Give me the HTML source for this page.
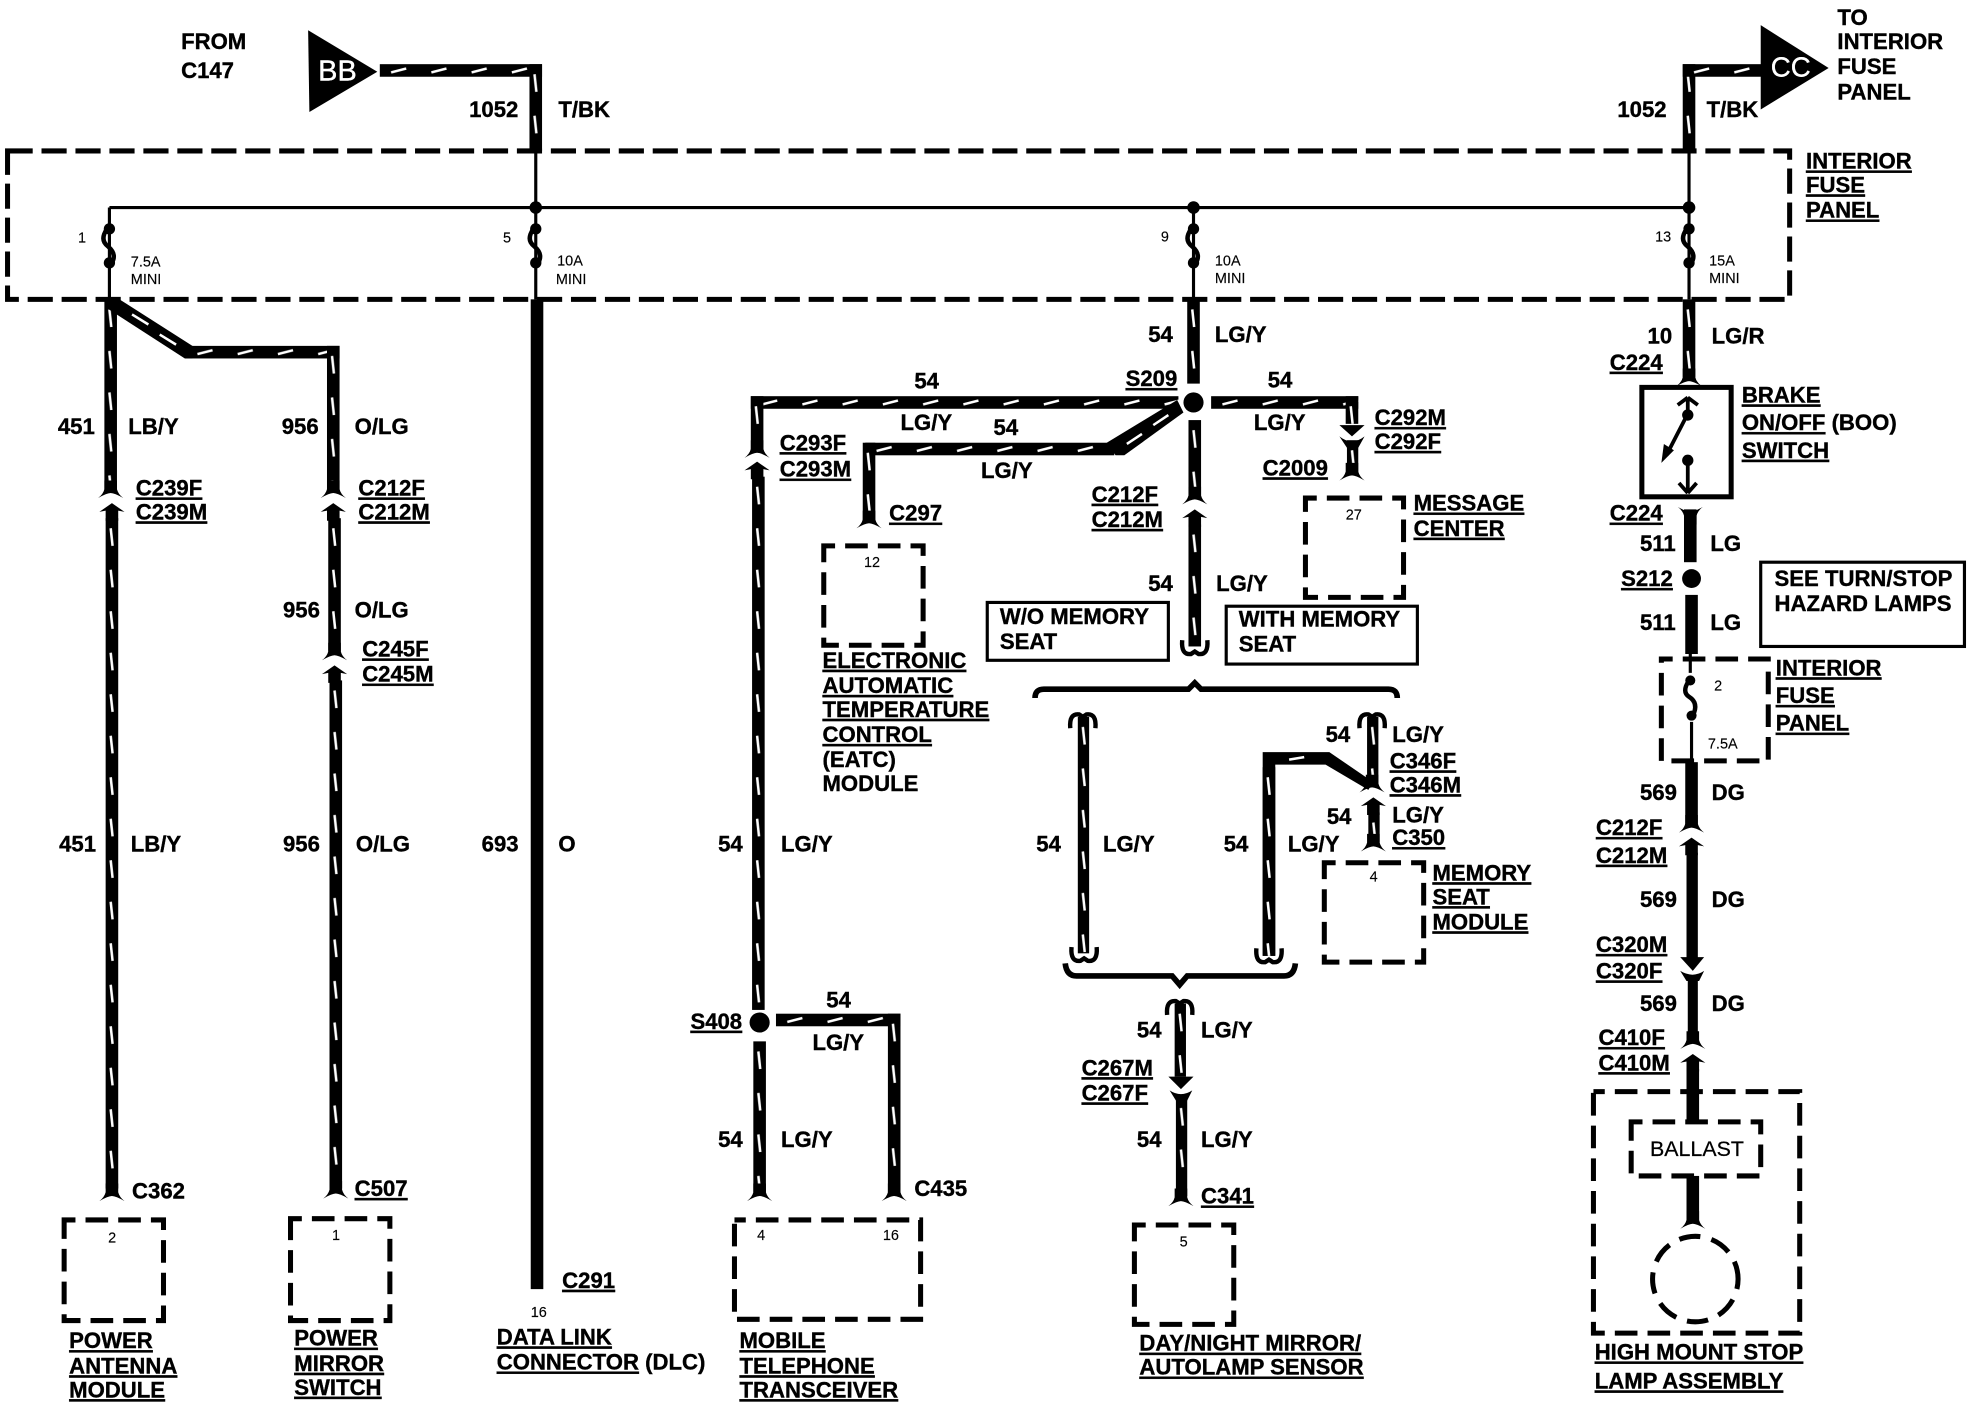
<!DOCTYPE html>
<html><head><meta charset="utf-8"><title>Wiring diagram</title>
<style>
html,body{margin:0;padding:0;background:#fff}
svg{display:block}
text{font-family:"Liberation Sans",sans-serif;font-weight:bold;font-size:17.6px;fill:#000;stroke:#000;stroke-width:.3}
.u{text-decoration:underline}
.s{font-size:11.5px;font-weight:normal;stroke-width:.1}
.n{font-weight:normal;stroke-width:.2;font-size:17px}
.d{fill:none;stroke:#000;stroke-width:4;stroke-dasharray:20 7}
.m{fill:none;stroke:#000;stroke-width:4;stroke-dasharray:18 8;stroke-dashoffset:9}
.t{fill:none;stroke:#000;stroke-width:2.5}
.fz{fill:none;stroke:#000;stroke-width:3.5}
</style></head><body>
<svg xmlns="http://www.w3.org/2000/svg" width="1972" height="1408" viewBox="0 0 1568 1119.5">
<defs>
<pattern id="V" width="10" height="33" patternUnits="userSpaceOnUse"><rect width="10" height="33" fill="#000"/><line x1="4" y1="8" x2="5.5" y2="22" stroke="#fff" stroke-width="2"/></pattern>
<pattern id="H" width="32" height="10" patternUnits="userSpaceOnUse"><rect width="32" height="10" fill="#000"/><line x1="9" y1="6.5" x2="21" y2="3.5" stroke="#fff" stroke-width="2"/></pattern>
<path id="f" d="M-5,-12 L-5,-5 Q-6,-1 -10,2 Q-3,-2 0,-2 Q3,-2 10,2 Q6,-1 5,-5 L5,-12Z"/>
<path id="a" d="M0,0 L10,7 L5,6 L5,14 L-5,14 L-5,6 L-10,7Z"/>
<path id="h" d="M-10,-9 Q-11,3 -3,2 L0,0 L3,2 Q11,3 10,-9" fill="none" stroke="#000" stroke-width="3.5"/>
<g id="fuse"><circle cx="0" cy="17" r="4.5"/><circle cx="0" cy="44" r="4.5"/><path class="fz" d="M-2,17 Q-8,26 -1,31 Q6,37 2,44"/></g>
</defs>

<!-- arrows -->
<polygon points="245,24 300,57 246,89"/>
<polygon points="1400,20 1454,54 1400,87"/>
<text x="253" y="64" style="fill:#fff;stroke:#fff;font-size:23px;font-weight:normal">BB</text>
<text x="1408" y="61" style="fill:#fff;stroke:#fff;font-size:22px;font-weight:normal">CC</text>

<!-- interior fuse panel -->
<rect class="d" x="6" y="120" width="1417" height="118"/>
<path class="t" d="M87,165H1343M426,120V238M949,165V238M1343,120V238M87,165V238"/>
<circle cx="426" cy="165" r="5"/><circle cx="949" cy="165" r="5"/><circle cx="1343" cy="165" r="5"/>
<use href="#fuse" transform="translate(87,165)"/><use href="#fuse" transform="translate(426,165)"/><use href="#fuse" transform="translate(949,165)"/><use href="#fuse" transform="translate(1343,165)"/>

<!-- ticked wires: top -->
<g transform="translate(302,51)"><rect width="129" height="10" fill="url(#H)"/></g>
<g transform="translate(421,51)"><rect width="10" height="69" fill="url(#V)"/></g>
<g transform="translate(1338,51)"><rect width="10" height="69" fill="url(#V)"/></g>
<g transform="translate(1338,51)"><rect width="64" height="10" fill="url(#H)"/></g>

<!-- wire 451 -->
<g transform="translate(83,238)"><rect width="10" height="154" fill="url(#V)"/></g>
<use href="#f" x="88" y="394"/><use href="#a" x="89" y="400"/>
<g transform="translate(84,412)"><rect width="10" height="533" fill="url(#V)"/></g>
<use href="#f" x="89" y="953"/>

<!-- wire 956 -->
<polygon points="85,238 95,238 153,275 153,285 147,285 85,245"/>
<line x1="105" y1="250" x2="118" y2="258" stroke="#fff" stroke-width="2"/><line x1="127" y1="266" x2="140" y2="274" stroke="#fff" stroke-width="2"/>
<g transform="translate(148,275)"><rect width="122" height="10" fill="url(#H)"/></g>
<g transform="translate(260,275)"><rect width="10" height="117" fill="url(#V)"/></g>
<use href="#f" x="265" y="394"/><use href="#a" x="265" y="400"/>
<g transform="translate(261,412)"><rect width="10" height="106" fill="url(#V)"/></g>
<use href="#f" x="266" y="523"/><use href="#a" x="266" y="529"/>
<g transform="translate(262,541)"><rect width="10" height="404" fill="url(#V)"/></g>
<use href="#f" x="267" y="951"/>

<!-- wire 693 -->
<rect x="422" y="238" width="10" height="787"/>

<!-- wire 54 left -->
<g transform="translate(597,315)"><rect width="340" height="10" fill="url(#H)"/></g>
<g transform="translate(597,315)"><rect width="10" height="45" fill="url(#V)"/></g>
<use href="#f" x="602" y="362"/><use href="#a" x="602" y="367"/>
<g transform="translate(598,379)"><rect width="10" height="424" fill="url(#V)"/></g>
<circle cx="604" cy="813" r="8"/>
<g transform="translate(599,828)"><rect width="10" height="120" fill="url(#V)"/></g>
<use href="#f" x="604" y="953"/>
<g transform="translate(617,806)"><rect width="99" height="10" fill="url(#H)"/></g>
<g transform="translate(706,806)"><rect width="10" height="142" fill="url(#V)"/></g>
<use href="#f" x="711" y="953"/>

<!-- S209 branches -->
<polygon points="880,352 887,362 894,362 941,328 936,318"/>
<line x1="896" y1="353" x2="908" y2="345" stroke="#fff" stroke-width="2"/><line x1="917" y1="338" x2="929" y2="330" stroke="#fff" stroke-width="2"/>
<g transform="translate(688,352)"><rect width="198" height="10" fill="url(#H)"/></g>
<g transform="translate(686,352)"><rect width="10" height="62" fill="url(#V)"/></g>
<use href="#f" x="691" y="418"/>
<g transform="translate(944,238)"><rect width="10" height="67" fill="url(#V)"/></g>
<circle cx="949" cy="320" r="8"/>
<g transform="translate(963,315)"><rect width="117" height="10" fill="url(#H)"/></g>
<g transform="translate(1070,315)"><rect width="10" height="22" fill="url(#V)"/></g>
<path d="M1075,347 L1065,338 L1085,338Z"/>
<g transform="translate(1071,350)"><rect width="9" height="28" fill="url(#V)"/></g>
<path d="M1065,347 Q1075,355 1085,347 L1080,356 L1071,356Z"/>
<use href="#f" x="1075" y="380"/>
<g transform="translate(945,334)"><rect width="10" height="60" fill="url(#V)"/></g>
<use href="#f" x="950" y="399"/><use href="#a" x="950" y="405"/>
<g transform="translate(945,417)"><rect width="10" height="97" fill="url(#V)"/></g>
<use href="#h" x="950" y="518"/>

<!-- brace top -->
<path d="M823,555 Q823,548 830,548 L945,548 L950,543 L955,548 L1104,548 Q1111,548 1111,555" fill="none" stroke="#000" stroke-width="4.5"/>
<!-- brace bottom -->
<path d="M847,766 Q848,776 856,776 L932,776 L938,783 L944,776 L1021,776 Q1029,776 1030,766" fill="none" stroke="#000" stroke-width="4.5"/>

<!-- memory seat wires -->
<use href="#h" transform="translate(861,570) scale(1,-1)"/>
<g transform="translate(857,570)"><rect width="9" height="188" fill="url(#V)"/></g>
<use href="#h" x="862" y="762"/>
<use href="#h" transform="translate(1091,570) scale(1,-1)"/>
<g transform="translate(1087,570)"><rect width="9" height="55" fill="url(#V)"/></g>
<use href="#f" x="1091" y="628"/>
<polygon points="1004,598 1057,598 1092,622 1088,628 1054,608 1014,608 1014,760 1004,760"/>
<line x1="1025" y1="604" x2="1037" y2="602" stroke="#fff" stroke-width="2"/>
<g transform="translate(1004,610)"><rect width="10" height="150" fill="url(#V)"/></g>
<use href="#h" x="1009" y="763"/>
<use href="#a" x="1092" y="634"/>
<g transform="translate(1088,646)"><rect width="9" height="24" fill="url(#V)"/></g>
<use href="#f" x="1092" y="675"/>

<!-- below brace -->
<use href="#h" transform="translate(938,798) scale(1,-1)"/>
<g transform="translate(934,798)"><rect width="9" height="58" fill="url(#V)"/></g>
<path d="M939,866 L929,856 L949,856Z"/>
<path d="M930,867 Q939,873 948,867 L944,875 L935,875Z"/>
<g transform="translate(935,873)"><rect width="9" height="78" fill="url(#V)"/></g>
<use href="#f" x="939" y="957"/>

<!-- right column -->
<g transform="translate(1338,238)"><rect width="10" height="62" fill="url(#V)"/></g>
<use href="#f" x="1343" y="305"/>
<rect x="1305.500" y="308" width="71" height="87" fill="none" stroke="#000" stroke-width="4"/>
<path d="M1342,316 L1334,322 M1342,316 L1350,322 M1342,316 V329 M1342,329 L1325,362" fill="none" stroke="#000" stroke-width="3"/>
<circle cx="1342" cy="330" r="4.500"/><polygon points="1321,368 1323,353 1331,358"/>
<circle cx="1342" cy="366" r="4.500"/>
<path d="M1342,366 V390 M1342,392 L1335,384 M1342,392 L1349,384" fill="none" stroke="#000" stroke-width="3"/>
<use href="#f" transform="translate(1344,405) scale(1,-1)"/>
<rect x="1339" y="405" width="10" height="42"/>
<circle cx="1345" cy="460" r="7.500"/>
<rect x="1340" y="473" width="10" height="47"/>
<rect class="m" x="1321" y="524" width="85" height="81"/>
<path class="t" d="M1344,520 V535 M1345,574 V606"/>
<circle cx="1344" cy="541" r="4"/><circle cx="1345" cy="569" r="4"/>
<path class="fz" d="M1343,541 Q1337,550 1343,554 Q1351,559 1346,569"/>
<rect x="1340" y="606" width="10" height="50"/>
<use href="#f" x="1345" y="660"/><use href="#a" x="1345" y="666"/>
<rect x="1341" y="678" width="9" height="84"/>
<path d="M1346,772 L1336,761 L1355,761Z"/>
<path d="M1336,772 Q1346,778 1355,772 L1351,780 L1341,780Z"/>
<rect x="1342" y="778" width="8" height="50"/>
<use href="#f" x="1346" y="832"/><use href="#a" x="1346" y="838"/>
<rect x="1341" y="850" width="10" height="43"/>
<rect class="m" x="1267" y="868" width="164" height="192"/>
<rect class="m" x="1297" y="892" width="103" height="43"/>
<rect x="1341" y="935" width="10" height="35"/>
<use href="#f" x="1346" y="975"/>
<circle class="m" cx="1348" cy="1017" r="34" style="stroke-dasharray:17 9"/>

<!-- component boxes -->
<rect class="m" x="51" y="970" width="79" height="80"/>
<rect class="m" x="231" y="969" width="79" height="81"/>
<rect class="m" x="584" y="970" width="148" height="79"/>
<rect class="m" x="902" y="974" width="79" height="79"/>
<rect class="m" x="655" y="434" width="79" height="79"/>
<rect class="m" x="1038" y="396" width="78" height="79"/>
<rect class="m" x="1053" y="686" width="79" height="79"/>
<rect x="785" y="479" width="144" height="46" fill="none" stroke="#000" stroke-width="2.500"/>
<rect x="975" y="482" width="152" height="46" fill="none" stroke="#000" stroke-width="2.500"/>
<rect x="1400" y="447" width="162" height="67" fill="none" stroke="#000" stroke-width="2.500"/>

<!-- text -->
<text x="144" y="39">FROM</text><text x="144" y="62">C147</text>
<text x="373" y="93">1052</text><text x="444" y="93">T/BK</text>
<text x="1286" y="93">1052</text><text x="1357" y="93">T/BK</text>
<text x="1461" y="20">TO</text><text x="1461" y="39">INTERIOR</text><text x="1461" y="59">FUSE</text><text x="1461" y="79">PANEL</text>
<text class="u" x="1436" y="134">INTERIOR</text><text class="u" x="1436" y="153">FUSE</text><text class="u" x="1436" y="173">PANEL</text>

<text class="s" x="62" y="193">1</text><text class="s" x="104" y="212">7.5A</text><text class="s" x="104" y="226">MINI</text>
<text class="s" x="400" y="193">5</text><text class="s" x="443" y="211">10A</text><text class="s" x="442" y="226">MINI</text>
<text class="s" x="923" y="192">9</text><text class="s" x="966" y="211">10A</text><text class="s" x="966" y="225">MINI</text>
<text class="s" x="1316" y="192">13</text><text class="s" x="1359" y="211">15A</text><text class="s" x="1359" y="225">MINI</text>

<text x="46" y="345">451</text><text x="102" y="345">LB/Y</text>
<text x="224" y="345">956</text><text x="282" y="345">O/LG</text>
<text class="u" x="108" y="394">C239F</text><text class="u" x="108" y="413">C239M</text>
<text class="u" x="285" y="394">C212F</text><text class="u" x="285" y="413">C212M</text>
<text x="225" y="491">956</text><text x="282" y="491">O/LG</text>
<text class="u" x="288" y="522">C245F</text><text class="u" x="288" y="542">C245M</text>
<text x="47" y="677">451</text><text x="104" y="677">LB/Y</text>
<text x="225" y="677">956</text><text x="283" y="677">O/LG</text>
<text x="383" y="677">693</text><text x="444" y="677">O</text>
<text x="105" y="953">C362</text><text class="u" x="282" y="951">C507</text>
<text class="u" x="447" y="1024">C291</text><text class="s" x="422" y="1047">16</text>
<text class="s" x="86" y="988">2</text><text class="s" x="264" y="986">1</text>
<text class="s" x="602" y="986">4</text><text class="s" x="702" y="986">16</text>
<text class="s" x="938" y="991">5</text><text class="s" x="687" y="451">12</text><text class="s" x="1070" y="413">27</text><text class="s" x="1089" y="701">4</text><text class="s" x="1363" y="549">2</text><text class="s" x="1358" y="595">7.5A</text>

<text class="u" x="55" y="1072">POWER</text><text class="u" x="55" y="1092">ANTENNA</text><text class="u" x="55" y="1111">MODULE</text>
<text class="u" x="234" y="1070">POWER</text><text class="u" x="234" y="1090">MIRROR</text><text class="u" x="234" y="1109">SWITCH</text>
<text class="u" x="395" y="1069">DATA LINK</text><text x="395" y="1089"><tspan class="u">CONNECTOR</tspan> (DLC)</text>
<text class="u" x="588" y="1072">MOBILE</text><text class="u" x="588" y="1092">TELEPHONE</text><text class="u" x="588" y="1111">TRANSCEIVER</text>

<text x="727" y="309">54</text><text x="716" y="342">LG/Y</text>
<text x="790" y="346">54</text><text x="780" y="380">LG/Y</text>
<text class="u" x="895" y="307">S209</text>
<text x="913" y="272">54</text><text x="966" y="272">LG/Y</text>
<text x="1008" y="308">54</text><text x="997" y="342">LG/Y</text>
<text class="u" x="620" y="358">C293F</text><text class="u" x="620" y="379">C293M</text>
<text class="u" x="707" y="414">C297</text>
<text class="u" x="868" y="399">C212F</text><text class="u" x="868" y="419">C212M</text>
<text class="u" x="1093" y="338">C292M</text><text class="u" x="1093" y="357">C292F</text>
<text class="u" x="1004" y="378">C2009</text>
<text class="u" x="1124" y="406">MESSAGE</text><text class="u" x="1124" y="426">CENTER</text>
<text x="913" y="470">54</text><text x="967" y="470">LG/Y</text>
<text x="795" y="496">W/O MEMORY</text><text x="795" y="516">SEAT</text>
<text x="985" y="498">WITH MEMORY</text><text x="985" y="518">SEAT</text>
<text class="u" x="654" y="531">ELECTRONIC</text><text class="u" x="654" y="551">AUTOMATIC</text><text class="u" x="654" y="570">TEMPERATURE</text><text class="u" x="654" y="590">CONTROL</text><text x="654" y="610">(EATC)</text><text x="654" y="629">MODULE</text>
<text x="571" y="677">54</text><text x="621" y="677">LG/Y</text>
<text x="824" y="677">54</text><text x="877" y="677">LG/Y</text>
<text x="973" y="677">54</text><text x="1024" y="677">LG/Y</text>
<text x="1054" y="590">54</text><text x="1107" y="590">LG/Y</text>
<text class="u" x="1105" y="611">C346F</text><text class="u" x="1105" y="630">C346M</text>
<text x="1055" y="655">54</text><text x="1107" y="654">LG/Y</text>
<text class="u" x="1107" y="672">C350</text>
<text class="u" x="1139" y="700">MEMORY</text><text class="u" x="1139" y="719">SEAT</text><text class="u" x="1139" y="739">MODULE</text>
<text class="u" x="549" y="818">S408</text>
<text x="657" y="801">54</text><text x="646" y="835">LG/Y</text>
<text x="571" y="912">54</text><text x="621" y="912">LG/Y</text>
<text x="727" y="951">C435</text>
<text x="904" y="825">54</text><text x="955" y="825">LG/Y</text>
<text class="u" x="860" y="855">C267M</text><text class="u" x="860" y="875">C267F</text>
<text x="904" y="912">54</text><text x="955" y="912">LG/Y</text>
<text class="u" x="955" y="957">C341</text>
<text class="u" x="906" y="1074">DAY/NIGHT MIRROR/</text><text class="u" x="906" y="1093">AUTOLAMP SENSOR</text>

<text x="1310" y="273">10</text><text x="1361" y="273">LG/R</text>
<text class="u" x="1280" y="294">C224</text>
<text class="u" x="1385" y="320">BRAKE</text><text x="1385" y="342"><tspan class="u">ON/OFF</tspan> (BOO)</text><text class="u" x="1385" y="364">SWITCH</text>
<text class="u" x="1280" y="414">C224</text>
<text x="1304" y="438">511</text><text x="1360" y="438">LG</text>
<text class="u" x="1289" y="466">S212</text>
<text x="1304" y="501">511</text><text x="1360" y="501">LG</text>
<text x="1411" y="466">SEE TURN/STOP</text><text x="1411" y="486">HAZARD LAMPS</text>
<text class="u" x="1412" y="537">INTERIOR</text><text class="u" x="1412" y="559">FUSE</text><text class="u" x="1412" y="581">PANEL</text>
<text x="1304" y="636">569</text><text x="1361" y="636">DG</text>
<text class="u" x="1269" y="664">C212F</text><text class="u" x="1269" y="686">C212M</text>
<text x="1304" y="721">569</text><text x="1361" y="721">DG</text>
<text class="u" x="1269" y="757">C320M</text><text class="u" x="1269" y="778">C320F</text>
<text x="1304" y="804">569</text><text x="1361" y="804">DG</text>
<text class="u" x="1271" y="831">C410F</text><text class="u" x="1271" y="851">C410M</text>
<text class="n" x="1312" y="919">BALLAST</text>
<text class="u" x="1268" y="1081">HIGH MOUNT STOP</text><text class="u" x="1268" y="1104">LAMP ASSEMBLY</text>
</svg>
</body></html>
